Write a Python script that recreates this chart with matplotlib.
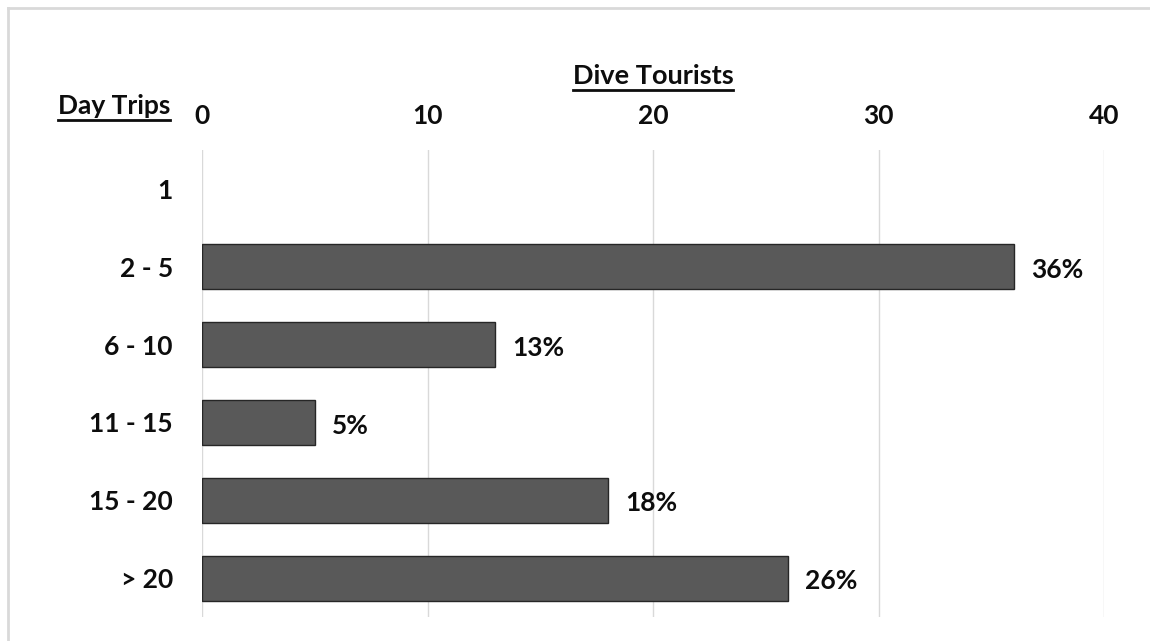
import matplotlib
matplotlib.use("Agg")
import matplotlib.pyplot as plt
from matplotlib.lines import Line2D

plt.rcParams['font.family'] = ['Lato', 'DejaVu Sans']
plt.rcParams['font.weight'] = 'bold'

categories = ['1', '2 - 5', '6 - 10', '11 - 15', '15 - 20', '> 20']
tourists = [0, 36, 13, 5, 18, 26]
pct_labels = ['', '36%', '13%', '5%', '18%', '26%']
x_ticks = [0, 10, 20, 30, 40]

FS = 19
INK = '#0d0d0d'


def underline(fig, txt, pad=2, lw=2.0):
    # draw a line just under the rendered text box
    r = fig.canvas.get_renderer()
    bb = txt.get_window_extent(renderer=r)
    W, H = fig.bbox.width, fig.bbox.height
    y = (bb.y0 - pad) / H
    fig.add_artist(Line2D([bb.x0 / W, bb.x1 / W], [y, y], color=INK,
                          lw=lw, transform=fig.transFigure))


fig = plt.figure(figsize=(11.5, 6.41), dpi=100)
ax = fig.add_axes([0.1757, 0.0374, 0.7843, 0.7286])

y = list(range(len(categories)))
bars = ax.barh(y, tourists, height=0.58, color='#595959', edgecolor='#262626', lw=1.0, zorder=3)
for b, v in zip(bars, tourists):
    if v == 0:
        b.set_visible(False)
for yi, v, lab in zip(y, tourists, pct_labels):
    if lab:
        ax.text(v + 0.75, yi + 0.04, lab, va='center', ha='left', fontsize=FS, fontweight='bold', color=INK)

ax.set_xlim(0, 40)
ax.set_ylim(len(categories) - 0.5, -0.5)
ax.set_xticks(x_ticks)
ax.set_yticks(y)
ax.set_yticklabels(categories)
ax.xaxis.tick_top()
ax.tick_params(axis='x', length=0, pad=16, labelsize=FS)
ax.tick_params(axis='y', length=0, pad=21, labelsize=FS)
for lbl in ax.get_xticklabels() + ax.get_yticklabels():
    lbl.set_fontweight('bold')
    lbl.set_color(INK)
ax.grid(axis='x', color='#d9d9d9', lw=1.0, zorder=0)
for s in ax.spines.values():
    s.set_visible(False)

t1 = fig.text(653 / 1150, 1 - 76 / 641, 'Dive Tourists', ha='center', va='center', fontsize=FS + 0.5, fontweight='bold', color=INK)
t2 = fig.text(170 / 1150, 1 - 106 / 641, 'Day Trips', ha='right', va='center', fontsize=FS, fontweight='bold', color=INK)

# light frame around the chart area
fig.add_artist(Line2D([8 / 1150, 8 / 1150], [0, 1 - 8 / 641], color='#d9d9d9', lw=2, transform=fig.transFigure))
fig.add_artist(Line2D([8 / 1150, 1], [1 - 8 / 641, 1 - 8 / 641], color='#d9d9d9', lw=2, transform=fig.transFigure))

fig.canvas.draw()
underline(fig, t1)
underline(fig, t2)

fig.savefig('out.png', dpi=100)
